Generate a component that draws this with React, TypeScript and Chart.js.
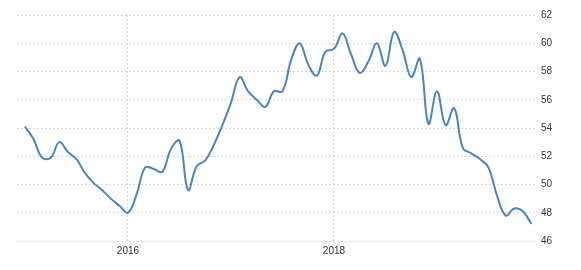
import React, { useEffect, useRef } from "react";
import { Chart, registerables } from "chart.js";

Chart.register(...registerables);

// Monthly values, Jan 2015 .. Dec 2019
const months: string[] = [
  "2015-01","2015-02","2015-03","2015-04","2015-05","2015-06","2015-07","2015-08","2015-09","2015-10","2015-11","2015-12",
  "2016-01","2016-02","2016-03","2016-04","2016-05","2016-06","2016-07","2016-08","2016-09","2016-10","2016-11","2016-12",
  "2017-01","2017-02","2017-03","2017-04","2017-05","2017-06","2017-07","2017-08","2017-09","2017-10","2017-11","2017-12",
  "2018-01","2018-02","2018-03","2018-04","2018-05","2018-06","2018-07","2018-08","2018-09","2018-10","2018-11","2018-12",
  "2019-01","2019-02","2019-03","2019-04","2019-05","2019-06","2019-07","2019-08","2019-09","2019-10","2019-11","2019-12",
];

const values: number[] = [
  54.1, 53.2, 51.9, 51.9, 53.0, 52.3, 51.8, 50.8, 50.1, 49.6, 49.0, 48.5,
  48.0, 49.3, 51.2, 51.1, 50.9, 52.5, 53.1, 49.6, 51.3, 51.7, 52.8, 54.2,
  55.8, 57.6, 56.6, 56.0, 55.5, 56.6, 56.6, 58.8, 60.0, 58.5, 57.7, 59.4,
  59.6, 60.7, 59.2, 57.9, 58.7, 60.0, 58.4, 60.8, 59.5, 57.6, 58.9, 54.3,
  56.6, 54.2, 55.4, 52.6, 52.2, 51.8, 51.2, 49.2, 47.8, 48.3, 48.1, 47.2,
];

const yearTickLabels: string[] = ["2016", "2018"];
const yTicks: number[] = [46, 48, 50, 52, 54, 56, 58, 60, 62];

export default function App() {
  const ref = useRef<HTMLCanvasElement | null>(null);

  useEffect(() => {
    if (!ref.current) return;
    const yearTickIdx = yearTickLabels.map((y) => months.indexOf(y + "-01"));
    const chart = new Chart(ref.current, {
      type: "line",
      data: {
        datasets: [
          {
            data: values.map((v, i) => ({ x: i, y: v })),
            borderColor: "#4a85bf",
            borderWidth: 2,
            pointRadius: 0,
            tension: 0.4,
            fill: false,
          },
        ],
      },
      options: {
        animation: false,
        responsive: false,
        maintainAspectRatio: false,
        layout: { padding: { top: 15, left: 17, right: 0, bottom: 0 } },
        plugins: { legend: { display: false }, tooltip: { enabled: false } },
        scales: {
          x: {
            type: "linear",
            min: -0.93,
            max: 59.65,
            afterBuildTicks: (scale: any) => {
              scale.ticks = yearTickIdx.map((v) => ({ value: v }));
            },
            afterFit: (scale: any) => {
              scale.height = 29;
            },
            ticks: {
              autoSkip: false,
              maxRotation: 0,
              padding: 4,
              color: "#333333",
              font: { size: 10, family: "'Liberation Sans', Arial, sans-serif" },
              callback: (v: any) => {
                const k = yearTickIdx.indexOf(Number(v));
                return k >= 0 ? yearTickLabels[k] : "";
              },
            },
            grid: { color: "#d6d6d6", lineWidth: 1, drawTicks: false },
            border: { display: false, dash: [2, 2] },
          },
          y: {
            position: "right",
            min: yTicks[0],
            max: yTicks[yTicks.length - 1],
            afterBuildTicks: (scale: any) => {
              scale.ticks = yTicks.map((v) => ({ value: v }));
            },
            afterFit: (scale: any) => {
              scale.width = 44;
            },
            ticks: {
              padding: 4,
              color: "#333333",
              font: { size: 10, family: "'Liberation Sans', Arial, sans-serif" },
            },
            grid: { color: "#d6d6d6", lineWidth: 1, drawTicks: false },
            border: { display: false, dash: [2, 2] },
          },
        },
      },
    });
    return () => chart.destroy();
  }, []);

  return (
    <div style={{ position: "absolute", left: 0, top: 0, width: 581, height: 270, background: "#ffffff" }}>
      <canvas ref={ref} width={581} height={270} style={{ display: "block" }} />
    </div>
  );
}
